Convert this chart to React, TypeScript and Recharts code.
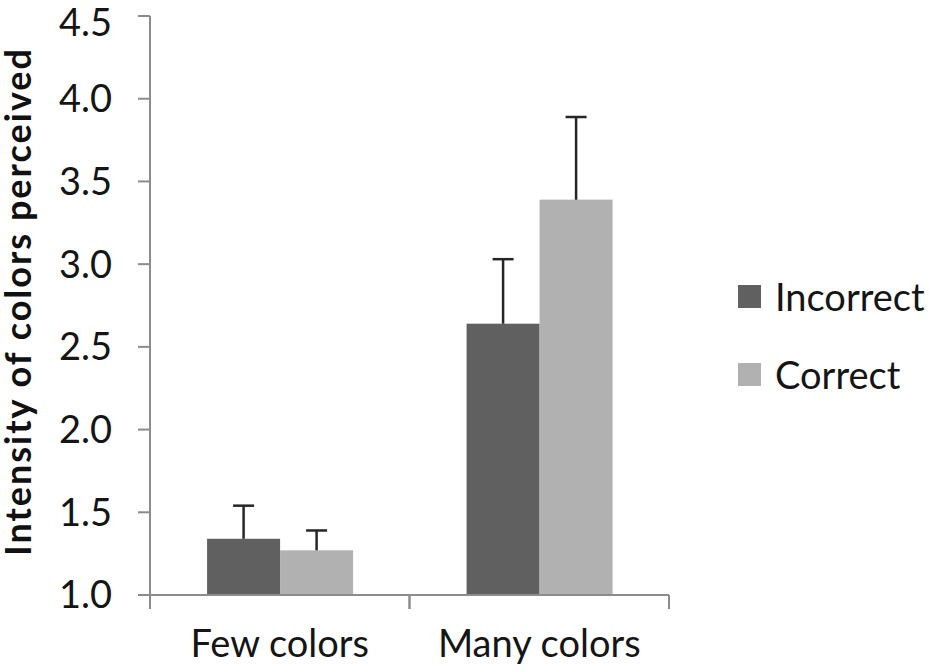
import { Bar, BarChart, Legend, XAxis, YAxis } from "recharts";

const categories = ["Few colors", "Many colors"];
const seriesNames = ["Incorrect", "Correct"];
const incorrectMeans = [1.34, 2.64];
const incorrectErr = [0.2, 0.39];
const correctMeans = [1.27, 3.39];
const correctErr = [0.12, 0.5];
const yTicks = [1.0, 1.5, 2.0, 2.5, 3.0, 3.5, 4.0, 4.5];

const Y_MIN = 1;
const Y_MAX = 4.5;
const FONT = "Lato, Calibri, 'Open Sans', sans-serif";
const DARK = "#606060";
const LIGHT = "#b1b1b1";

const data = categories.map((c, i) => ({
  name: c,
  incorrect: incorrectMeans[i],
  incorrectErr: incorrectErr[i],
  correct: correctMeans[i],
  correctErr: correctErr[i],
}));

// bar + one-sided (upper) error whisker, scaled from the bar's own pixel height
function barWithError(errKey: string) {
  return (props: any) => {
    const { x, y, width, height, fill, payload, value } = props;
    const mean = Array.isArray(value) ? value[1] : value;
    const pxPerUnit = height / (mean - Y_MIN);
    const top = y - payload[errKey] * pxPerUnit;
    const cx = x + width / 2;
    return (
      <g>
        <rect x={x} y={y} width={width} height={height} fill={fill} />
        <line x1={cx} x2={cx} y1={y} y2={top} stroke="#262626" strokeWidth={2.5} />
        <line x1={cx - 10.5} x2={cx + 10.5} y1={top} y2={top} stroke="#262626" strokeWidth={2.5} />
      </g>
    );
  };
}

function CategoryTick(props: any) {
  const { x, y, payload } = props;
  const half = payload.offset || 0;
  return (
    <g>
      <line x1={x - half} x2={x - half} y1={y} y2={y + 14} stroke="#8c8c8c" strokeWidth={2} />
      <line x1={x + half} x2={x + half} y1={y} y2={y + 14} stroke="#8c8c8c" strokeWidth={2} />
      <text x={x} y={y + 62} textAnchor="middle" fontSize={38} fontFamily={FONT} fill="#151515">
        {payload.value}
      </text>
    </g>
  );
}

function LegendBox(props: any) {
  const items = [...(props.payload || [])].sort(
    (a: any, b: any) => seriesNames.indexOf(a.value) - seriesNames.indexOf(b.value)
  );
  return (
    <div style={{ fontFamily: FONT, fontSize: 38, color: "#151515" }}>
      {items.map((it: any) => (
        <div key={it.value} style={{ display: "flex", alignItems: "center", height: 78 }}>
          <span style={{ width: 23, height: 23, background: it.color, marginRight: 14, display: "inline-block" }} />
          <span>{it.value}</span>
        </div>
      ))}
    </div>
  );
}

export default function App() {
  return (
    <div style={{ position: "absolute", left: 0, top: 0, background: "#fff" }}>
      <BarChart
        width={938}
        height={672}
        data={data}
        margin={{ top: 16, right: 269, left: 0, bottom: 0 }}
        barCategoryGap="22%"
        barGap={0}
      >
        <XAxis
          dataKey="name"
          height={77}
          stroke="#8c8c8c"
          strokeWidth={2}
          tickLine={false}
          tickSize={0}
          tickMargin={0}
          tick={<CategoryTick />}
          interval={0}
        />
        <YAxis
          width={150}
          domain={[Y_MIN, Y_MAX]}
          ticks={yTicks}
          allowDataOverflow
          stroke="#8c8c8c"
          strokeWidth={2}
          tickSize={12}
          tickMargin={26}
          tickFormatter={(v: number) => v.toFixed(1)}
          tick={{ fontSize: 38, fontFamily: FONT, fill: "#151515" }}
          label={{
            content: (p: any) => {
              const vb = p.viewBox || { x: 0, y: 16, width: 150, height: 579 };
              const cx = 31;
              const cy = vb.y + vb.height / 2 - 4;
              return (
                <text
                  x={cx}
                  y={cy}
                  transform={`rotate(-90, ${cx}, ${cy})`}
                  textAnchor="middle"
                  fontSize={36}
                  letterSpacing={2}
                  fontWeight="bold"
                  fontFamily={FONT}
                  fill="#111"
                >
                  Intensity of colors perceived
                </text>
              );
            },
          }}
        />
        <Legend
          layout="vertical"
          align="center"
          verticalAlign="middle"
          content={<LegendBox />}
          wrapperStyle={{ left: 738, top: 257, width: 200 }}
        />
        <Bar dataKey="incorrect" name="Incorrect" fill={DARK} isAnimationActive={false} shape={barWithError("incorrectErr")} />
        <Bar dataKey="correct" name="Correct" fill={LIGHT} isAnimationActive={false} shape={barWithError("correctErr")} />
      </BarChart>
    </div>
  );
}
